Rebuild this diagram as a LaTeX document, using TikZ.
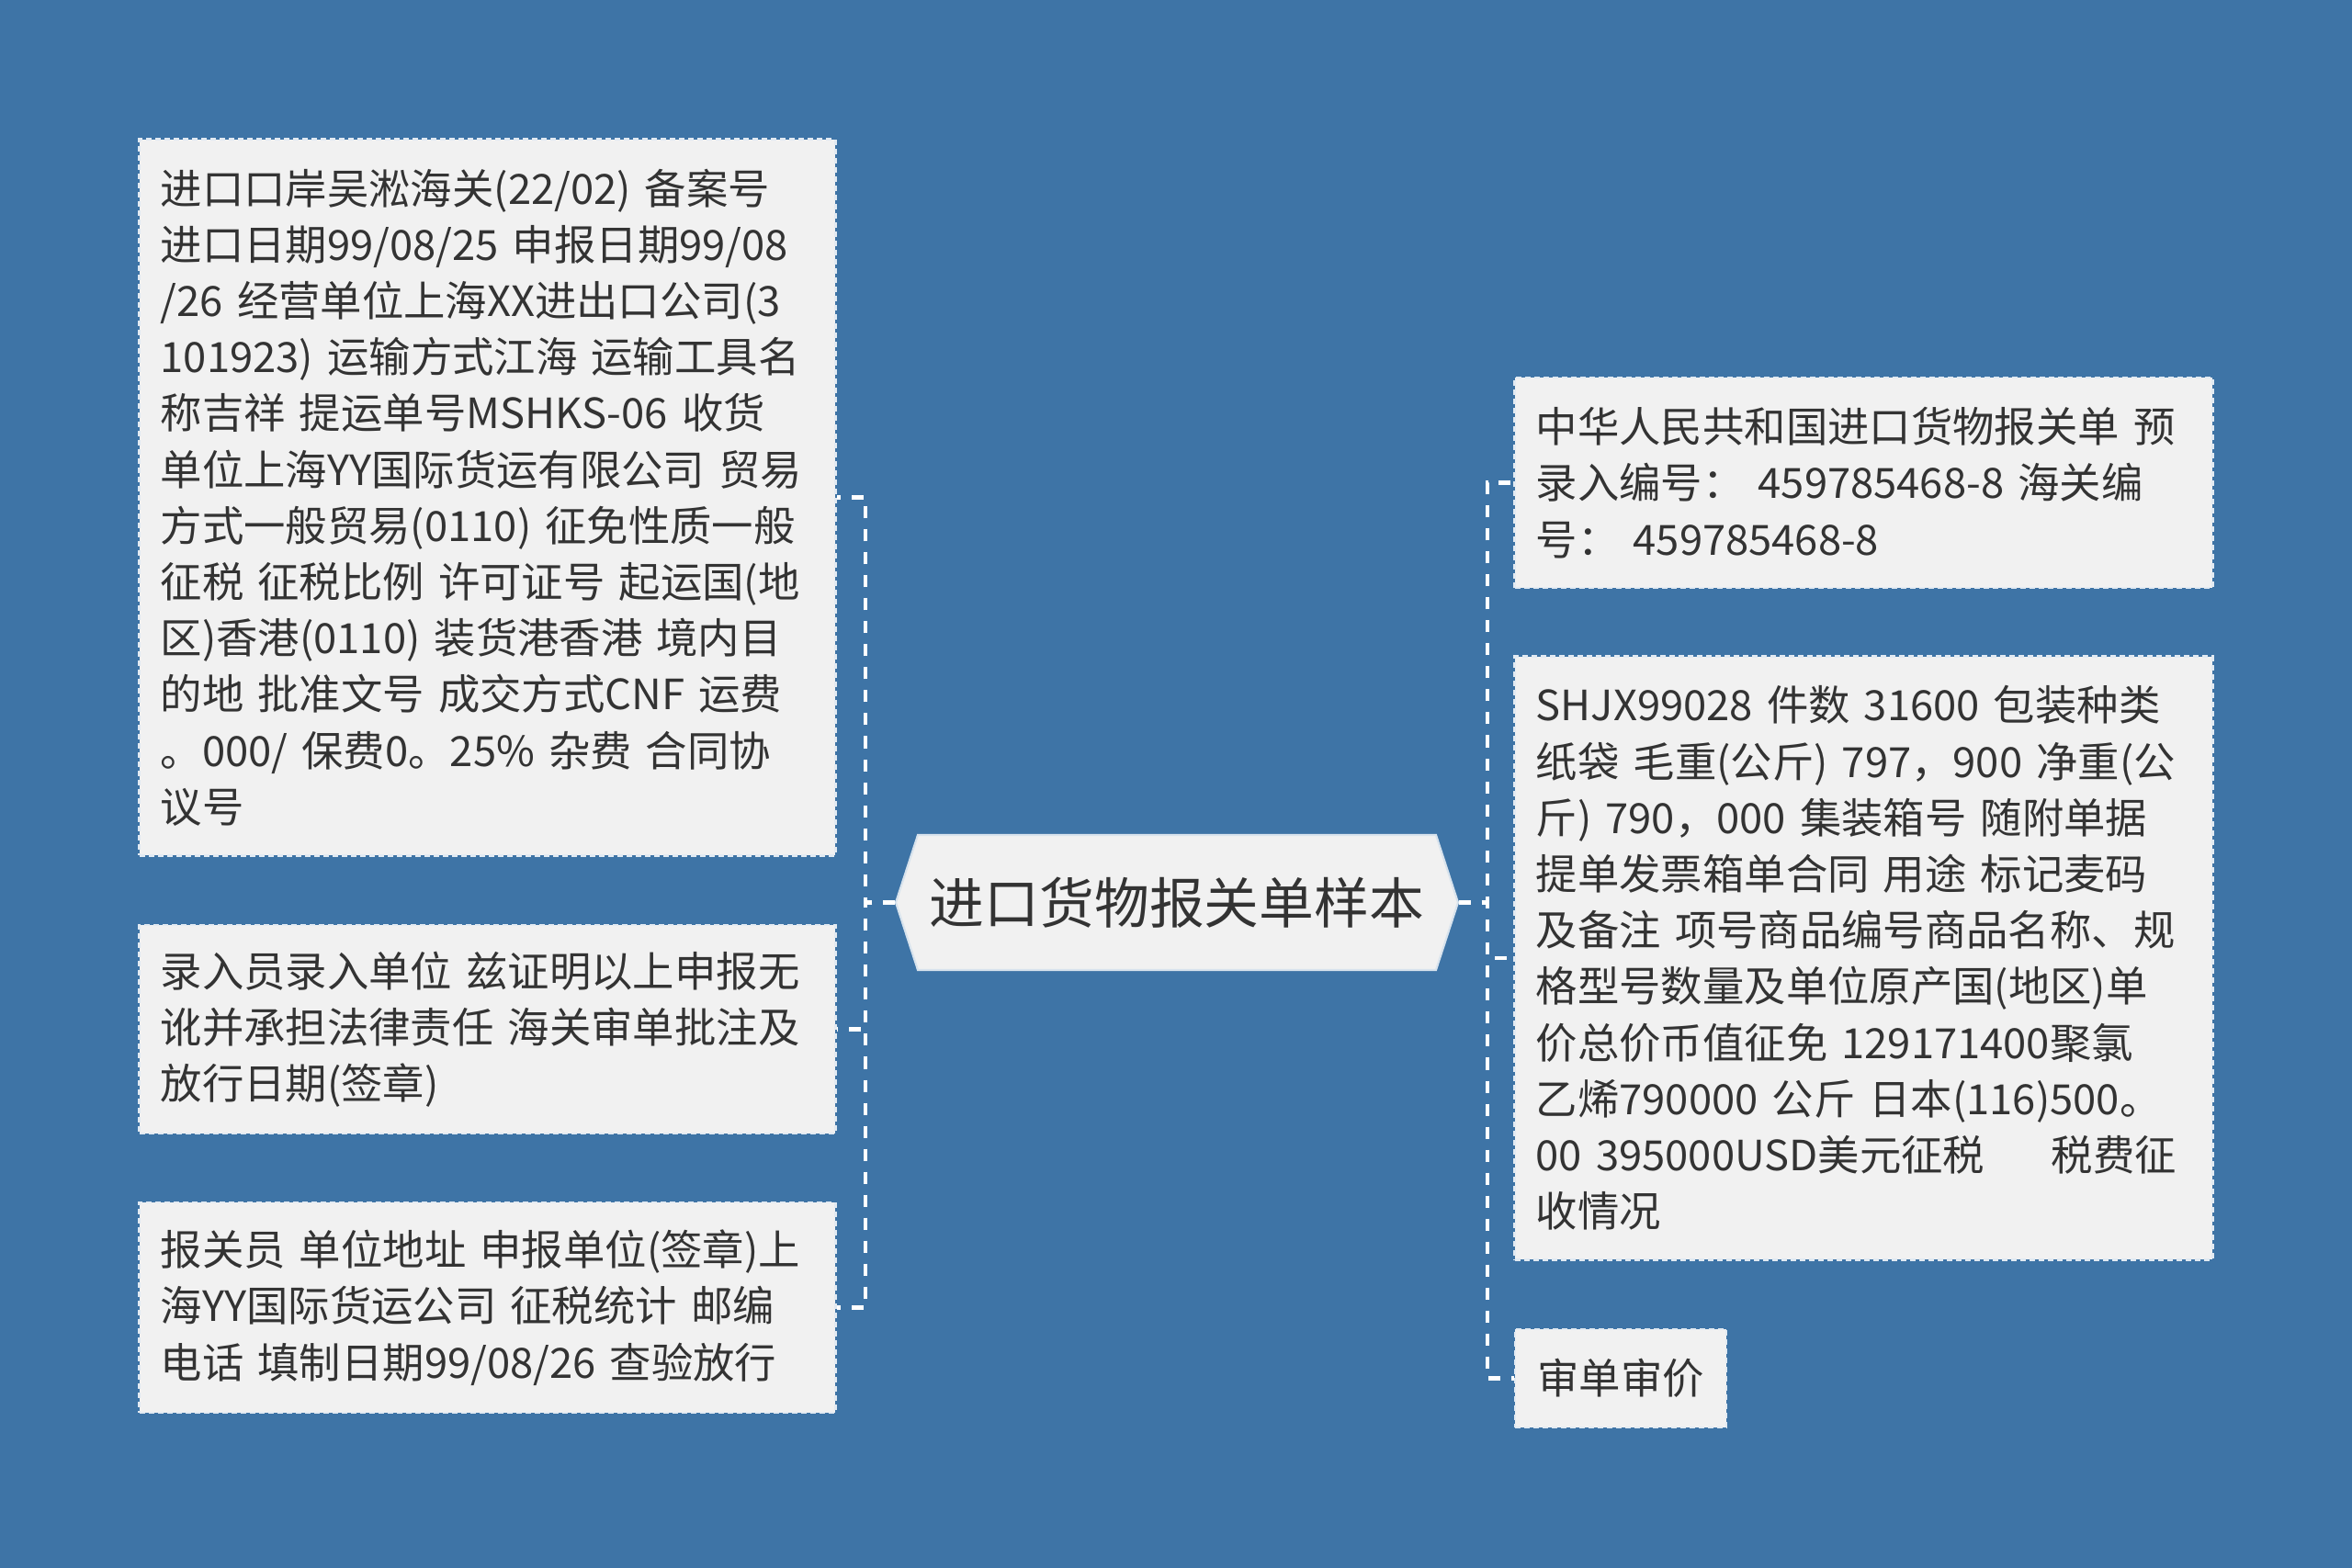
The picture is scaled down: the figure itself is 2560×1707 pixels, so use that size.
\documentclass[tikz,border=0pt]{standalone}
\usepackage{fontspec}
\setmainfont{Noto Sans CJK SC}
\usepackage{xcolor}
\usepackage{tikz}
\usetikzlibrary{calc}
\definecolor{mBack}{HTML}{3E74A6}
\definecolor{mPaper}{HTML}{F1F1F1}
\definecolor{mInk}{HTML}{333333}
\def\boxfont{\fontsize{12.9pt}{17.4pt}\selectfont\hyphenpenalty=10000}

\begin{document}
\begin{tikzpicture}[x=0.01cm, y=-0.01cm]
  \tikzstyle{link}=[draw=white, line width=1.4pt, dash pattern=on 1.3mm off 1.2mm]
  \tikzstyle{leaf}=[fill=mPaper, draw=white!85!mBack, line width=0.8pt,
    dash pattern=on 0.6mm off 0.4mm, inner xsep=0.23cm, inner ysep=0pt,
    text=mInk, font=\boxfont, align=left]
  \tikzstyle{topic}=[rectangle, minimum width=6.12cm, minimum height=1.47cm,
    inner sep=0pt, text=mInk, font=\fontsize{17pt}{20pt}\selectfont]

  % background
  \fill[mBack] (0,0) rectangle (2560,1707);
  \useasboundingbox (0,0) rectangle (2560,1707);

  % Draw the central topic (hexagon first, text on top)
  \coordinate (rootc) at (1281,982.5);
  \filldraw[fill=mPaper, draw=white!80!mBack, line width=0.6pt]
    ($(rootc)+(-306,0)$) -- ++(24,-73.5) -- ++(564,0) -- ++(24,73.5)
    -- ++(-24,73.5) -- ++(-564,0) -- cycle;
  \node[topic] (root) at (rootc) {进口货物报关单样本};

  % Draw the left branches
  \node[leaf, text width=7.11cm, minimum height=7.79cm] (L-1) at (530.5,541.5) {%
    进口口岸吴淞海关(22/02) 备案号\\
    进口日期99/08/25 申报日期99/08\\
    /26 经营单位上海XX进出口公司(3\\
    101923) 运输方式江海 运输工具名\\
    称吉祥 提运单号MSHKS-06 收货\\
    单位上海YY国际货运有限公司 贸易\\
    方式一般贸易(0110) 征免性质一般\\
    征税 征税比例 许可证号 起运国(地\\
    区)香港(0110) 装货港香港 境内目\\
    的地 批准文号 成交方式CNF 运费\\
    。000/ 保费0。25\% 杂费 合同协\\
    议号};
  \node[leaf, text width=7.11cm, minimum height=2.27cm] (L-2) at (530.5,1120.5) {%
    录入员录入单位 兹证明以上申报无\\
    讹并承担法律责任 海关审单批注及\\
    放行日期(签章)};
  \node[leaf, text width=7.11cm, minimum height=2.29cm] (L-3) at (530.5,1423.5) {%
    报关员 单位地址 申报单位(签章)上\\
    海YY国际货运公司 征税统计 邮编\\
    电话 填制日期99/08/26 查验放行};

  % Draw the right branches
  \node[leaf, text width=7.13cm, minimum height=2.29cm] (R-1) at (2028.5,525.5) {%
    中华人民共和国进口货物报关单 预\\
    录入编号：\ 459785468-8 海关编\\
    号：\ 459785468-8};
  \node[leaf, text width=7.13cm, minimum height=6.56cm] (R-2) at (2028.5,1043) {%
    SHJX99028 件数 31600 包装种类\\
    纸袋 毛重(公斤) 797，900 净重(公\\
    斤) 790，000 集装箱号 随附单据\\
    提单发票箱单合同 用途 标记麦码\\
    及备注 项号商品编号商品名称、规\\
    格型号数量及单位原产国(地区)单\\
    价总价币值征免 129171400聚氯\\
    乙烯790000 公斤 日本(116)500。\\
    \mbox{00 395000USD美元征税\hspace{1.6em}税费征}\\
    收情况};
  \node[leaf, minimum width=2.30cm, minimum height=1.07cm] (R-3) at (1764,1500.5) {审单审价};

  % Connect topic -> branches
  \coordinate (lbus) at (942,982.5);
  \coordinate (rbus) at (1619,982.5);
  \foreach \name in {1,...,3}
    \draw[link] (root.west) -- (lbus) |- (L-\name.east);
  \foreach \name in {1,...,3}
    \draw[link] (root.east) -- (rbus) |- (R-\name.west);
\end{tikzpicture}
\end{document}
